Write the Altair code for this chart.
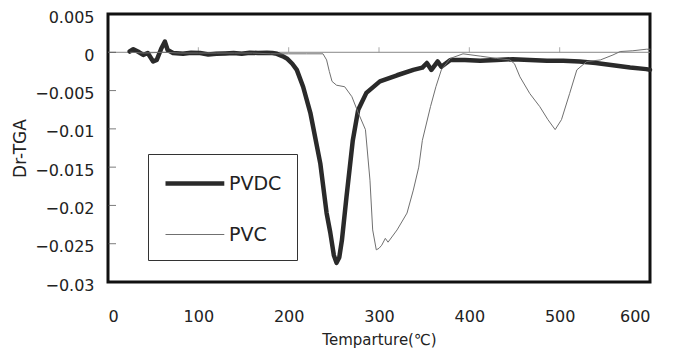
import altair as alt
import pandas as pd

# PVDC derivative TGA (values in units of 0.001)
pvdc_t = [24, 28, 33, 39, 44, 50, 54, 59, 63, 66, 72, 83, 92, 102, 111, 120, 130, 139, 148, 157,
          166, 176, 182, 187, 193, 198, 204, 209, 216, 224, 235, 242, 246, 250, 253, 256, 259, 264,
          271, 277, 286, 301, 320, 338, 348, 353, 358, 365, 369, 379, 395, 412, 430, 448, 467, 486,
          504, 522, 540, 559, 578, 596, 600]
pvdc_v = [0.1, 0.4, 0.1, -0.35, -0.1, -1.2, -1.0, 0.5, 1.4, 0.3, -0.1, -0.2, -0.05, -0.1, -0.3, -0.2,
          -0.15, -0.1, -0.2, -0.05, -0.1, -0.05, -0.1, -0.2, -0.5, -0.8, -1.5, -2.3, -4.5, -7.9, -14.5,
          -21.0, -23.5, -26.5, -27.5, -26.8, -24.5, -18.9, -11.5, -7.5, -5.3, -3.8, -3.0, -2.3, -2.0,
          -1.4, -2.3, -1.2, -1.9, -1.0, -1.0, -1.1, -1.0, -0.9, -1.0, -1.1, -1.1, -1.2, -1.4, -1.7,
          -2.0, -2.2, -2.3]

# PVC derivative TGA (values in units of 0.001)
pvc_t = [25, 40, 60, 80, 100, 120, 140, 160, 180, 200, 220, 238, 242, 245, 248, 253, 262, 270, 277,
         285, 290, 293, 297, 300, 303, 307, 310, 320, 331, 338, 344, 348, 357, 363, 369, 379, 393,
         412, 430, 445, 450, 456, 467, 478, 487, 495, 502, 511, 519, 530, 545, 559, 567, 581, 596, 600]
pvc_v = [0.0, -0.1, 0.0, -0.1, -0.1, -0.1, -0.1, -0.1, -0.2, -0.2, -0.2, -0.2, -1.0, -2.5, -3.8,
         -4.3, -4.5, -5.8, -7.9, -10.1, -16.7, -23.2, -25.8, -25.6, -25.2, -24.3, -24.8, -23.2, -21.0,
         -18.0, -15.0, -11.5, -7.1, -4.5, -2.3, -0.8, -0.2, -0.5, -0.8, -1.0, -1.5, -3.2, -5.4, -7.1,
         -8.8, -10.1, -8.8, -5.4, -2.3, -1.2, -1.0, -0.35, 0.1, 0.2, 0.4, 0.4]

series = ["PVDC", "PVC"]
x_ticks = [0, 100, 200, 300, 400, 500, 600]
y_ticks = [0.005, 0, -0.005, -0.01, -0.015, -0.02, -0.025, -0.03]

rows = [{"T": t, "v": v, "s": "PVDC"} for t, v in zip(pvdc_t, pvdc_v)]
rows += [{"T": t, "v": v, "s": "PVC"} for t, v in zip(pvc_t, pvc_v)]
df = pd.DataFrame(rows)

FONT = "DejaVu Sans"

xscale = alt.Scale(domain=[0, 600], nice=False)
yscale = alt.Scale(domain=[-0.03, 0.005], nice=False)

xaxis = alt.Axis(values=x_ticks, title="Temparture(℃)", ticks=False, domain=False,
                 grid=False, labelPadding=26, titlePadding=8, labelFontSize=16,
                 titleFontSize=15, titleFontWeight="normal", labelColor="#222",
                 titleColor="#222", labelFont=FONT, titleFont=FONT, labelOverlap=False)
yaxis = alt.Axis(values=y_ticks, format=".3~f", title="Dr-TGA", ticks=False,
                 domain=False, grid=False, labelPadding=14, titlePadding=5,
                 labelOffset=3,
                 labelOverlap=False, labelFontSize=16, titleFontSize=17,
                 titleFontWeight="normal", labelColor="#222", titleColor="#222",
                 labelFont=FONT, titleFont=FONT)

legend = alt.Legend(title=None, orient="none", legendX=40, legendY=140,
                    strokeColor="#333", fillColor="white", padding=15,
                    symbolType="M-1,0H3.9", symbolSize=576, rowPadding=28,
                    labelFontSize=19, labelFont=FONT, labelColor="#222",
                    labelOffset=37)

lines = alt.Chart(df).transform_calculate(
    val="datum.v / 1000"
).mark_line(strokeJoin="round", strokeCap="round").encode(
    x=alt.X("T:Q", scale=xscale, axis=xaxis),
    y=alt.Y("val:Q", scale=yscale, axis=yaxis),
    color=alt.Color("s:N", scale=alt.Scale(domain=series, range=["#2a2a2a", "#707070"]),
                    legend=legend),
    strokeWidth=alt.StrokeWidth("s:N", scale=alt.Scale(domain=series, range=[4.5, 1.0]),
                                legend=legend),
    order=alt.Order("s:N", sort="descending"),
)

zero = alt.Chart(pd.DataFrame({"z": [0]})).mark_rule(color="#888", strokeWidth=1).encode(
    y=alt.Y("z:Q", scale=yscale, axis=yaxis)
)

xt = alt.Chart(pd.DataFrame({"t": x_ticks[1:-1], "z": [0] * 5})).mark_tick(
    orient="vertical", size=5, thickness=1, color="#888", yOffset=-2.5
).encode(x=alt.X("t:Q", scale=xscale, axis=xaxis), y=alt.Y("z:Q", scale=yscale, axis=yaxis))

yt = alt.Chart(pd.DataFrame({"v": y_ticks[1:-1], "z": [0] * 6})).mark_tick(
    orient="horizontal", size=8, thickness=1, color="#444", xOffset=4
).encode(x=alt.X("z:Q", scale=xscale, axis=xaxis), y=alt.Y("v:Q", scale=yscale, axis=yaxis))

chart = alt.layer(zero, xt, yt, lines).properties(
    width=542, height=268,
    background="white",
    autosize=alt.AutoSizeParams(type="none"),
    padding={"left": 100, "top": 6, "right": 25, "bottom": 66},
).configure_view(stroke="#111", strokeWidth=3).configure_axis(labelOverlap=False)

chart.save("out.html", embed_options={"renderer": "svg", "actions": False})
